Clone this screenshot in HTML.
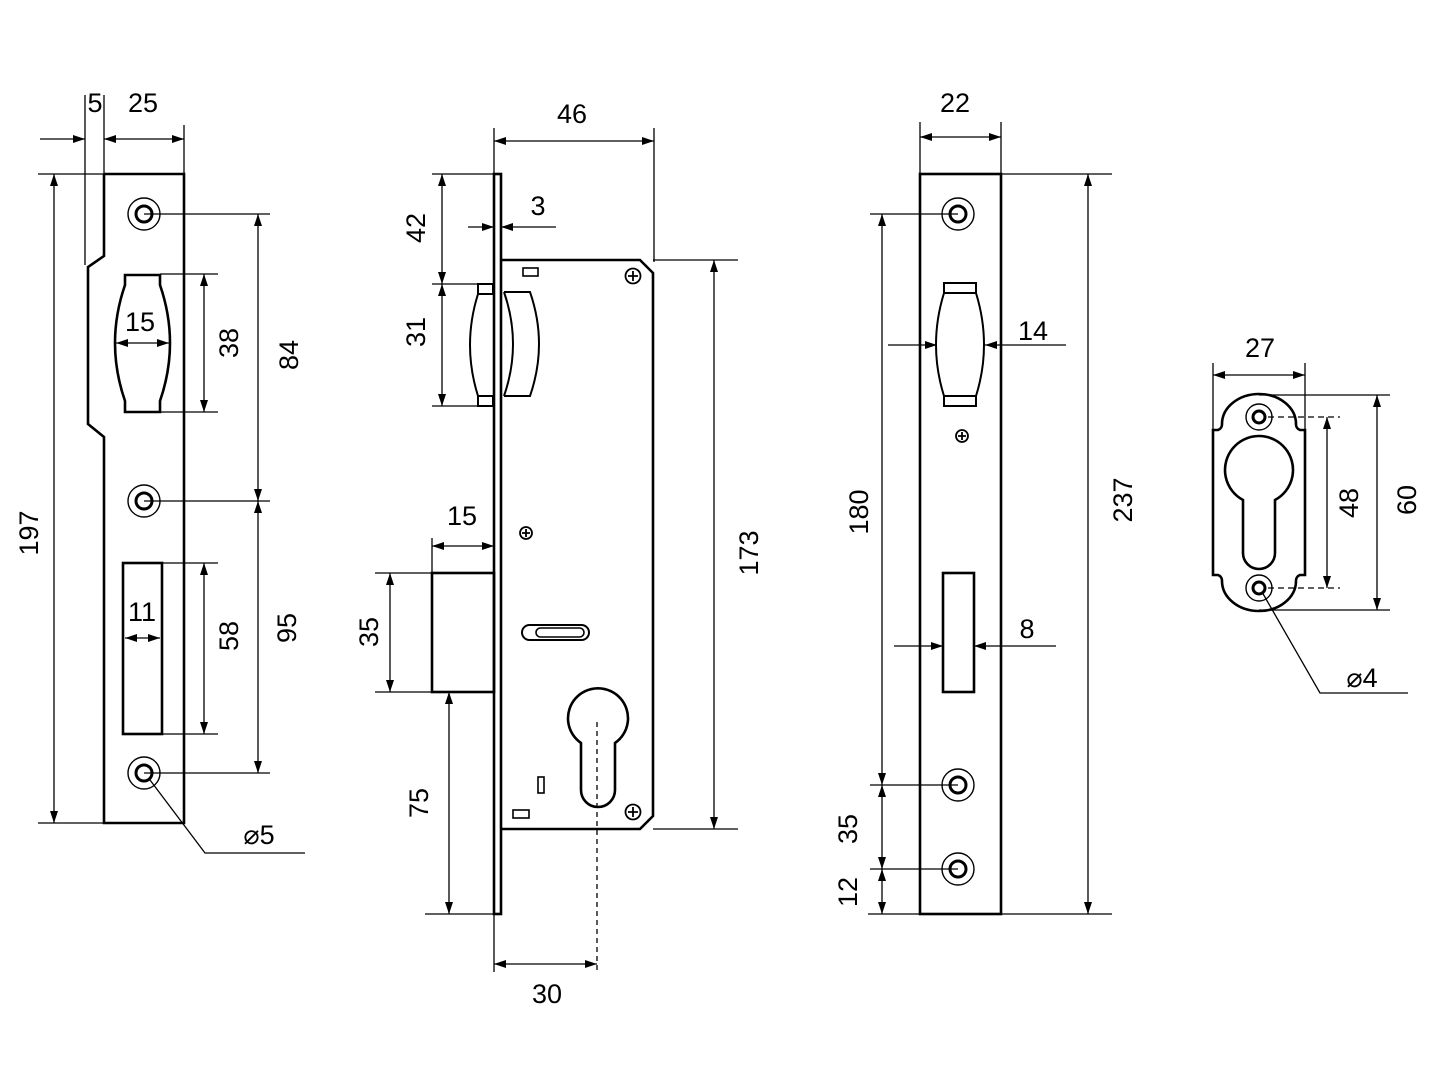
<!DOCTYPE html>
<html><head><meta charset="utf-8"><style>html,body{margin:0;padding:0;background:#fff}svg{display:block}</style></head>
<body>
<svg width="1440" height="1080" viewBox="0 0 1440 1080" xmlns="http://www.w3.org/2000/svg" font-family="Liberation Sans, Arial, sans-serif" font-size="27" fill="none" stroke="#000">
<defs>
<marker id="a" viewBox="0 0 12 8" refX="12" refY="4" markerWidth="12" markerHeight="8" markerUnits="userSpaceOnUse" orient="auto-start-reverse"><path d="M0,0 L12,4 L0,8 z" fill="#000" stroke="none"/></marker>
</defs>
<g stroke-width="1.3">
<line x1="85" y1="95" x2="85" y2="265"/>
<line x1="104" y1="95" x2="104" y2="174"/>
<line x1="184" y1="125" x2="184" y2="174"/>
<line x1="40" y1="139" x2="85" y2="139" marker-end="url(#a)"/>
<line x1="104" y1="139" x2="184" y2="139" marker-start="url(#a)" marker-end="url(#a)"/>
<line x1="38" y1="174" x2="104" y2="174"/>
<line x1="38" y1="823" x2="104" y2="823"/>
<line x1="54" y1="174" x2="54" y2="823" marker-start="url(#a)" marker-end="url(#a)"/>
<line x1="144" y1="214" x2="270" y2="214"/>
<line x1="144" y1="501" x2="270" y2="501"/>
<line x1="144" y1="773" x2="270" y2="773"/>
<line x1="258" y1="214" x2="258" y2="501" marker-start="url(#a)" marker-end="url(#a)"/>
<line x1="258" y1="501" x2="258" y2="773" marker-start="url(#a)" marker-end="url(#a)"/>
<line x1="160" y1="274" x2="218" y2="274"/>
<line x1="160" y1="412" x2="218" y2="412"/>
<line x1="204" y1="274" x2="204" y2="412" marker-start="url(#a)" marker-end="url(#a)"/>
<line x1="162" y1="563" x2="218" y2="563"/>
<line x1="162" y1="734" x2="218" y2="734"/>
<line x1="204" y1="563" x2="204" y2="734" marker-start="url(#a)" marker-end="url(#a)"/>
<line x1="116" y1="343" x2="169" y2="343" marker-start="url(#a)" marker-end="url(#a)"/>
<line x1="125" y1="638" x2="160" y2="638" marker-start="url(#a)" marker-end="url(#a)"/>
<polyline points="150,780 205,853 305,853"/>
<line x1="494" y1="128" x2="494" y2="174"/>
<line x1="654" y1="128" x2="654" y2="262"/>
<line x1="494" y1="141" x2="654" y2="141" marker-start="url(#a)" marker-end="url(#a)"/>
<line x1="432" y1="174" x2="494" y2="174"/>
<line x1="432" y1="284" x2="478" y2="284"/>
<line x1="432" y1="406" x2="478" y2="406"/>
<line x1="442" y1="174" x2="442" y2="284" marker-start="url(#a)" marker-end="url(#a)"/>
<line x1="442" y1="284" x2="442" y2="406" marker-start="url(#a)" marker-end="url(#a)"/>
<line x1="468" y1="227" x2="494" y2="227" marker-end="url(#a)"/>
<line x1="556" y1="227" x2="501" y2="227" marker-end="url(#a)"/>
<line x1="653" y1="260" x2="738" y2="260"/>
<line x1="653" y1="829" x2="738" y2="829"/>
<line x1="714" y1="260" x2="714" y2="829" marker-start="url(#a)" marker-end="url(#a)"/>
<line x1="432" y1="538" x2="432" y2="573"/>
<line x1="432" y1="546" x2="494" y2="546" marker-start="url(#a)" marker-end="url(#a)"/>
<line x1="375" y1="573" x2="432" y2="573"/>
<line x1="375" y1="692" x2="432" y2="692"/>
<line x1="390" y1="573" x2="390" y2="692" marker-start="url(#a)" marker-end="url(#a)"/>
<line x1="425" y1="914" x2="494" y2="914"/>
<line x1="449" y1="692" x2="449" y2="914" marker-start="url(#a)" marker-end="url(#a)"/>
<line x1="494" y1="914" x2="494" y2="972"/>
<line x1="494" y1="964" x2="597" y2="964" marker-start="url(#a)" marker-end="url(#a)"/>
<line x1="597" y1="722" x2="597" y2="972" stroke-dasharray="5,4"/>
<line x1="920" y1="122" x2="920" y2="174"/>
<line x1="1001" y1="122" x2="1001" y2="174"/>
<line x1="920" y1="137" x2="1001" y2="137" marker-start="url(#a)" marker-end="url(#a)"/>
<line x1="1001" y1="174" x2="1112" y2="174"/>
<line x1="868" y1="914" x2="1112" y2="914"/>
<line x1="1088" y1="174" x2="1088" y2="914" marker-start="url(#a)" marker-end="url(#a)"/>
<line x1="870" y1="214" x2="958" y2="214"/>
<line x1="870" y1="785" x2="958" y2="785"/>
<line x1="870" y1="869" x2="958" y2="869"/>
<line x1="882" y1="214" x2="882" y2="785" marker-start="url(#a)" marker-end="url(#a)"/>
<line x1="882" y1="785" x2="882" y2="869" marker-start="url(#a)" marker-end="url(#a)"/>
<line x1="882" y1="869" x2="882" y2="914" marker-start="url(#a)" marker-end="url(#a)"/>
<line x1="888" y1="345" x2="937" y2="345" marker-end="url(#a)"/>
<line x1="1066" y1="345" x2="985" y2="345" marker-end="url(#a)"/>
<line x1="894" y1="646" x2="943" y2="646" marker-end="url(#a)"/>
<line x1="1056" y1="646" x2="974" y2="646" marker-end="url(#a)"/>
<line x1="1213" y1="363" x2="1213" y2="430"/>
<line x1="1305" y1="363" x2="1305" y2="430"/>
<line x1="1213" y1="375" x2="1305" y2="375" marker-start="url(#a)" marker-end="url(#a)"/>
<line x1="1259" y1="395" x2="1390" y2="395"/>
<line x1="1259" y1="610" x2="1390" y2="610"/>
<line x1="1377" y1="395" x2="1377" y2="610" marker-start="url(#a)" marker-end="url(#a)"/>
<line x1="1268" y1="417" x2="1340" y2="417" stroke-dasharray="6,4"/>
<line x1="1268" y1="588" x2="1340" y2="588" stroke-dasharray="6,4"/>
<line x1="1327" y1="417" x2="1327" y2="588" marker-start="url(#a)" marker-end="url(#a)"/>
<polyline points="1262,592 1320,693 1408,693"/>
</g>

<g stroke-width="2.6" stroke-linejoin="miter">
<polyline points="104,174 184,174 184,823 104,823 104,437 88,424 88,267 104,256 104,174"/>
<path d="M125,275 L160,275 L160,285 Q180,343 160,401 L160,412 L125,412 L125,401 Q105,343 125,285 Z"/>
<rect x="123" y="563" width="39" height="171"/>
<rect x="494" y="174" width="7" height="740"/>
<path d="M501,260 L640,260 L653,273 L653,816 L640,829 L501,829"/>
<rect x="523" y="268" width="15" height="8" stroke-width="1.6"/>
<rect x="478" y="284" width="15" height="10" stroke-width="2"/>
<rect x="478" y="396" width="15" height="10" stroke-width="2"/>
<path d="M478,294 Q462,345 478,396" stroke-width="2"/>
<path d="M504,292 L530,292 Q548,344 530,396 L504,396" stroke-width="2"/>
<path d="M504,292 Q522,344 504,396" stroke-width="2"/>
<rect x="432" y="573" width="62" height="119"/>
<rect x="522" y="625" width="67" height="15" rx="7.5" stroke-width="2"/>
<rect x="536" y="628" width="48" height="9" rx="4.5" stroke-width="1.6"/>
<path d="M581,743 A30,30 0 1 1 615,743 L615,790 A17,17 0 0 1 581,790 Z"/>
<rect x="538" y="777" width="6" height="16" stroke-width="1.6"/>
<rect x="513" y="810" width="16" height="8" stroke-width="1.6"/>
<rect x="920" y="174" width="81" height="740"/>
<rect x="944" y="283" width="32" height="10" stroke-width="2"/>
<rect x="944" y="396" width="32" height="10" stroke-width="2"/>
<path d="M944,293 Q928,345 944,396 M976,293 Q992,345 976,396" stroke-width="2"/>
<rect x="943" y="573" width="31" height="119"/>
<path d="M1213,430 L1213,575 L1218,575 A6,6 0 0 1 1222,581 A37,30 0 0 0 1296,581 A6,6 0 0 1 1300,575 L1305,575 L1305,430 L1300,430 A6,6 0 0 1 1296,424 A37,30 0 0 0 1222,424 A6,6 0 0 1 1218,430 Z"/>
<path d="M1243,500 A34,34 0 1 1 1275,500 L1275,553 A16,16 0 0 1 1243,553 Z"/>
</g>

<g stroke-width="1.4">
<circle cx="144" cy="214" r="16"/><circle cx="144" cy="501" r="16"/><circle cx="144" cy="773" r="16"/>
<circle cx="958" cy="214" r="16"/><circle cx="958" cy="785" r="16"/><circle cx="958" cy="869" r="16"/>
<circle cx="1259" cy="417" r="13"/><circle cx="1259" cy="588" r="13"/>
</g>
<g stroke-width="3">
<circle cx="144" cy="214" r="8"/><circle cx="144" cy="501" r="8"/><circle cx="144" cy="773" r="8"/>
<circle cx="958" cy="214" r="8"/><circle cx="958" cy="785" r="8"/><circle cx="958" cy="869" r="8"/>
<circle cx="1259" cy="417" r="6"/><circle cx="1259" cy="588" r="6"/>
</g>
<g stroke-width="1.8">
<circle cx="633" cy="276" r="7.5"/><path d="M633,271v10M628,276h10"/>
<circle cx="633" cy="812" r="7.5"/><path d="M633,807v10M628,812h10"/>
<circle cx="526" cy="533" r="6"/><path d="M526,529v8M522,533h8"/>
<circle cx="962" cy="436" r="6"/><path d="M962,432v8M958,436h8"/>
</g>

<g fill="#000" stroke="none" text-anchor="middle">
<text x="95" y="112">5</text>
<text x="143" y="112">25</text>
<text x="140" y="331">15</text>
<text x="142" y="621">11</text>
<text x="259" y="844">⌀5</text>
<text transform="translate(38,533) rotate(-90)">197</text>
<text transform="translate(238,343) rotate(-90)">38</text>
<text transform="translate(298,355) rotate(-90)">84</text>
<text transform="translate(238,636) rotate(-90)">58</text>
<text transform="translate(296,628) rotate(-90)">95</text>
<text x="572" y="123">46</text>
<text x="538" y="215">3</text>
<text x="462" y="525">15</text>
<text x="547" y="1003">30</text>
<text transform="translate(425,228) rotate(-90)">42</text>
<text transform="translate(425,332) rotate(-90)">31</text>
<text transform="translate(378,632) rotate(-90)">35</text>
<text transform="translate(428,803) rotate(-90)">75</text>
<text transform="translate(758,553) rotate(-90)">173</text>
<text x="955" y="112">22</text>
<text x="1033" y="340">14</text>
<text x="1027" y="638">8</text>
<text transform="translate(868,512) rotate(-90)">180</text>
<text transform="translate(857,829) rotate(-90)">35</text>
<text transform="translate(857,892) rotate(-90)">12</text>
<text transform="translate(1132,500) rotate(-90)">237</text>
<text x="1260" y="357">27</text>
<text x="1362" y="687">⌀4</text>
<text transform="translate(1358,503) rotate(-90)">48</text>
<text transform="translate(1416,500) rotate(-90)">60</text>
</g>
</svg>
</body></html>
